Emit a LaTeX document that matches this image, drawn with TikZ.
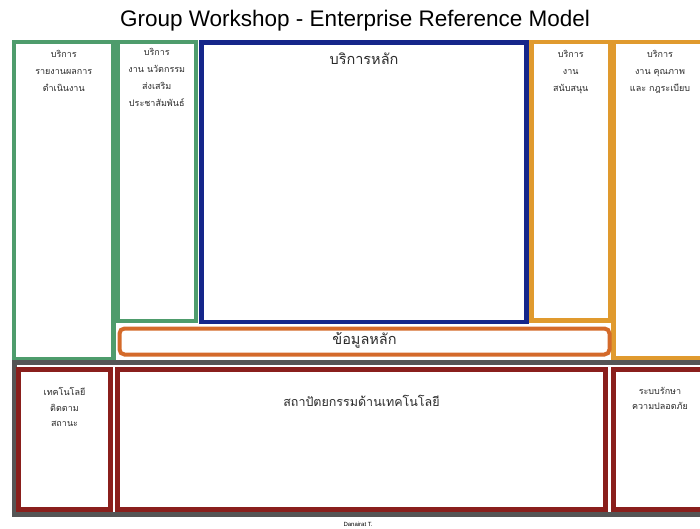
\documentclass[tikz,border=0pt]{standalone}
\usepackage{fontspec}
\usepackage{tikz}
\usetikzlibrary{positioning}
\setmainfont{Liberation Sans}
\newfontfamily\thaifont[Script=Thai]{Loma}

\definecolor{svcgreen}{HTML}{4E9C6C}
\definecolor{corenavy}{HTML}{15268A}
\definecolor{supamber}{HTML}{E09A2E}
\definecolor{dataorange}{HTML}{D46A2A}
\definecolor{techgray}{HTML}{555555}
\definecolor{techred}{HTML}{8A1F1C}
\definecolor{thaitxt}{HTML}{2A2A2A}

\tikzset{
  blk/.style={draw,anchor=north west,inner sep=0pt,outer sep=0pt,line width=4.5pt},
  svcbox/.style={blk,draw=svcgreen},
  corebox/.style={blk,draw=corenavy},
  supbox/.style={blk,draw=supamber},
  databox/.style={blk,draw=dataorange,line width=4pt,rounded corners=5pt},
  techbox/.style={blk,draw=techgray,line width=5pt},
  redbox/.style={blk,draw=techred,line width=5pt},
  smalltxt/.style={text=thaitxt,align=center,inner sep=0pt,
    font=\thaifont\fontsize{9}{17}\selectfont},
  lowtxt/.style={smalltxt,font=\thaifont\fontsize{9}{15.5}\selectfont},
  bigtxt/.style={text=thaitxt,inner sep=0pt,
    font=\thaifont\fontsize{14.5}{16}\selectfont}
}

\begin{document}
\begin{tikzpicture}[x=1pt,y=-1pt]
    \useasboundingbox (0,0) rectangle (700,529);
    \clip (0,0) rectangle (700,529);

    \node (title) at (355,27) [anchor=base,font=\fontsize{22.5}{24}\selectfont]{
      Group Workshop - Enterprise Reference Model
    };

    % service row
    \node (rpt) at (14,42) [svcbox,minimum width=99.5pt,minimum height=317pt]{};
    \node (inno) at (117.5,42) [svcbox,minimum width=78.5pt,minimum height=279pt]{};
    \node (core) at (201.5,42.5) [corebox,minimum width=325pt,minimum height=279.5pt]{};
    \node (supp) at (531.5,42) [supbox,minimum width=78.5pt,minimum height=278.5pt]{};
    \node (qual) at (613.5,42) [supbox,minimum width=100pt,minimum height=316.5pt]{};
    \node (data) at (119.5,328.5) [databox,minimum width=490pt,minimum height=26pt]{};

    % technology row
    \node (tech) at (14.5,362.5) [techbox,minimum width=700pt,minimum height=152pt]{};
    \node (mon) at (18.5,369.5) [redbox,minimum width=92pt,minimum height=140pt]{};
    \node (arch) at (117.5,369.5) [redbox,minimum width=488pt,minimum height=140pt]{};
    \node (sec) at (613.5,369.5) [redbox,minimum width=100pt,minimum height=140pt]{};

    \node [smalltxt,below=8.5pt of rpt.north]{บริการ\\รายงานผลการ\\ดำเนินงาน};
    \node [smalltxt,below=6pt of inno.north]{บริการ\\งาน นวัตกรรม\\ส่งเสริม\\ประชาสัมพันธ์};
    \node [bigtxt,below=10pt of core.north]{บริการหลัก};
    \node [smalltxt,below=8.5pt of supp.north]{บริการ\\งาน\\สนับสนุน};
    \node [smalltxt] at (660,50) [anchor=north]{บริการ\\งาน คุณภาพ\\และ กฎระเบียบ};
    \node [bigtxt,yshift=1.5pt] at (data.center){ข้อมูลหลัก};
    \node [lowtxt,below=18pt of mon.north]{เทคโนโลยี\\ติดตาม\\สถานะ};
    \node [bigtxt,font=\thaifont\fontsize{12.5}{16}\selectfont,below=26pt of arch.north]{สถาปัตยกรรมด้านเทคโนโลยี};
    \node [lowtxt] at (660,387) [anchor=north]{ระบบรักษา\\ความปลอดภัย};

    \node (sig) at (358,524) [font=\fontsize{6}{7}\selectfont]{Danairat T.};
\end{tikzpicture}
\end{document}
